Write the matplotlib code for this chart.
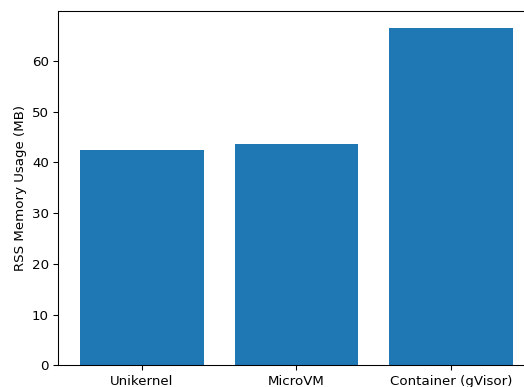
import matplotlib
matplotlib.use("Agg")
import matplotlib.pyplot as plt

platforms = ["Unikernel", "MicroVM", "Container (gVisor)"]
rss_mb = [42.5, 43.7, 66.5]

fig = plt.figure(figsize=(524 / 96, 387 / 96), dpi=96)
ax = fig.add_axes([0.1113, 0.0556, 0.909, 0.916])
ax.bar(platforms, rss_mb, color="#1f77b4")
ax.set_ylabel("RSS Memory Usage (MB)")

fig.savefig("out.png", dpi=96)
